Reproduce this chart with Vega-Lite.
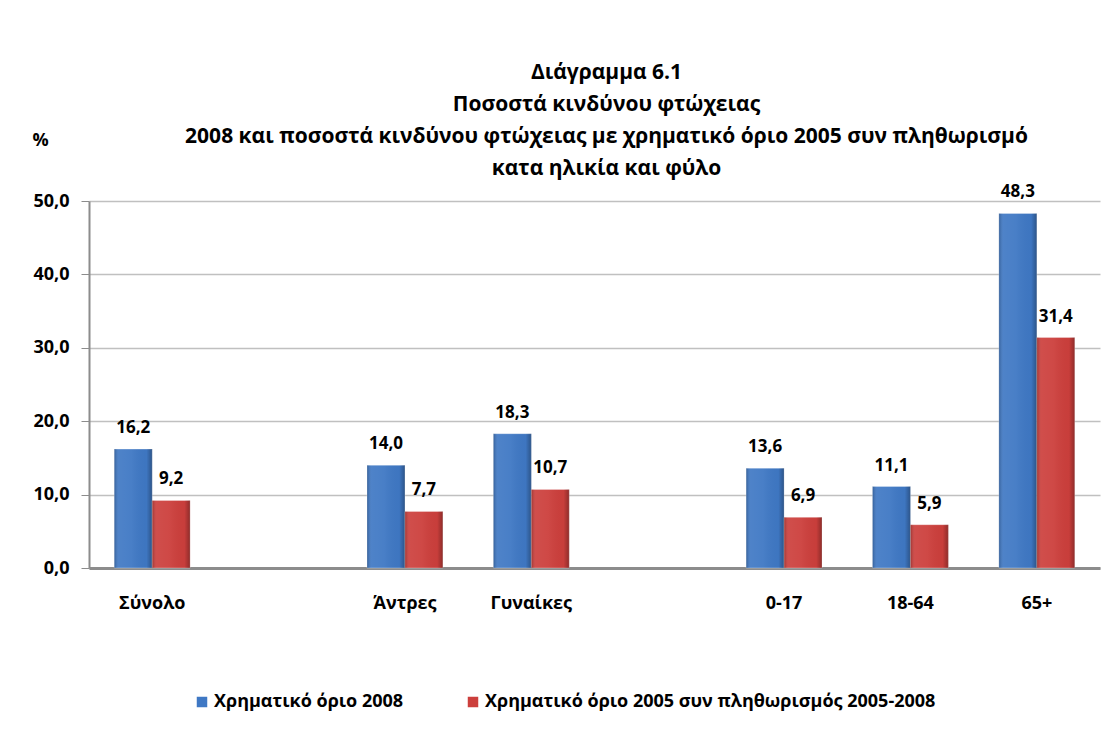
{
  "$schema": "https://vega.github.io/schema/vega-lite/v6.json",
  "autosize": {"type": "none"},
  "width": 1011,
  "height": 367,
  "padding": {"left": 89, "top": 201, "right": 19, "bottom": 170},
  "background": "white",
  "config": {
    "locale": {"number": {"decimal": ",", "thousands": ".", "grouping": [3], "currency": ["", " €"]}},
    "font": "Open Sans",
    "view": {"stroke": null}
  },
  "title": {
    "text": ["Διάγραμμα 6.1", "Ποσοστά κινδύνου  φτώχειας", "2008 και ποσοστά κινδύνου  φτώχειας με χρηματικό όριο 2005 συν πληθωρισμό", "κατα ηλικία και φύλο"],
    "fontSize": 21,
    "fontWeight": "bold",
    "color": "black",
    "lineHeight": 32,
    "anchor": "middle",
    "offset": 26,
    "dx": 12,
    "dy": 74
  },
  "data": {
    "values": [
      {"cat": "Σύνολο", "series": "Χρηματικό όριο 2008", "v": 16.2},
      {"cat": "Σύνολο", "series": "Χρηματικό όριο 2005 συν πληθωρισμός 2005-2008", "v": 9.2},
      {"cat": "Άντρες", "series": "Χρηματικό όριο 2008", "v": 14.0},
      {"cat": "Άντρες", "series": "Χρηματικό όριο 2005 συν πληθωρισμός 2005-2008", "v": 7.7},
      {"cat": "Γυναίκες", "series": "Χρηματικό όριο 2008", "v": 18.3},
      {"cat": "Γυναίκες", "series": "Χρηματικό όριο 2005 συν πληθωρισμός 2005-2008", "v": 10.7},
      {"cat": "0-17", "series": "Χρηματικό όριο 2008", "v": 13.6},
      {"cat": "0-17", "series": "Χρηματικό όριο 2005 συν πληθωρισμός 2005-2008", "v": 6.9},
      {"cat": "18-64", "series": "Χρηματικό όριο 2008", "v": 11.1},
      {"cat": "18-64", "series": "Χρηματικό όριο 2005 συν πληθωρισμός 2005-2008", "v": 5.9},
      {"cat": "65+", "series": "Χρηματικό όριο 2008", "v": 48.3},
      {"cat": "65+", "series": "Χρηματικό όριο 2005 συν πληθωρισμός 2005-2008", "v": 31.4}
    ]
  },
  "encoding": {
    "x": {
      "field": "cat",
      "type": "nominal",
      "scale": {"domain": ["Σύνολο", "_1", "Άντρες", "Γυναίκες", "_2", "0-17", "18-64", "65+"], "paddingInner": 0.4, "paddingOuter": 0.2},
      "axis": {
        "title": null,
        "labelAngle": 0,
        "labelExpr": "indexof(datum.value, '_') == 0 ? '' : datum.value",
        "labelFontSize": 18,
        "labelFontWeight": "bold",
        "labelColor": "black",
        "labelPadding": 26,
        "ticks": false,
        "domainColor": "#8c8c8c",
        "domainWidth": 3
      }
    },
    "xOffset": {
      "field": "series",
      "type": "nominal",
      "sort": ["Χρηματικό όριο 2008", "Χρηματικό όριο 2005 συν πληθωρισμός 2005-2008"],
      "scale": {"paddingInner": 0, "paddingOuter": 0}
    },
    "y": {
      "field": "v",
      "type": "quantitative",
      "scale": {"domain": [0, 50], "nice": false},
      "axis": {
        "values": [0, 10, 20, 30, 40, 50],
        "format": ".1f",
        "labelFontSize": 18,
        "labelFontWeight": "bold",
        "labelColor": "black",
        "labelPadding": 12,
        "tickSize": 8,
        "tickColor": "#8c8c8c",
        "domainColor": "#8c8c8c",
        "domainWidth": 2,
        "gridColor": "#c0c0c0",
        "gridWidth": 1.5,
        "title": "%",
        "titleAngle": 0,
        "titleX": -49,
        "titleY": -61,
        "titleAlign": "center",
        "titleBaseline": "middle",
        "titleFontSize": 18,
        "titleFontWeight": "bold",
        "titleColor": "black"
      }
    }
  },
  "layer": [
    {
      "mark": {"type": "bar", "stroke": "#ffffff", "strokeOpacity": 0.3, "strokeWidth": 1},
      "encoding": {
        "color": {
          "field": "series",
          "type": "nominal",
          "sort": ["Χρηματικό όριο 2008", "Χρηματικό όριο 2005 συν πληθωρισμός 2005-2008"],
          "scale": {"range": ["#3F78C4", "#CC3F3C"]},
          "legend": {
            "title": null,
            "orient": "none",
            "legendX": 104,
            "legendY": 492,
            "direction": "horizontal",
            "symbolType": "square",
            "symbolSize": 110,
            "symbolStrokeWidth": 0,
            "labelFontSize": 18,
            "labelFontWeight": "bold",
            "labelColor": "black",
            "labelLimit": 0,
            "labelOffset": 3,
            "columnPadding": 60
          }
        }
      }
    },
    {
      "mark": {
        "type": "bar",
        "fill": {
          "gradient": "linear",
          "x1": 0, "y1": 0, "x2": 1, "y2": 0,
          "stops": [
            {"offset": 0, "color": "rgba(0,0,0,0.22)"},
            {"offset": 0.12, "color": "rgba(255,255,255,0.08)"},
            {"offset": 0.45, "color": "rgba(255,255,255,0.05)"},
            {"offset": 0.85, "color": "rgba(0,0,0,0.02)"},
            {"offset": 1, "color": "rgba(0,0,0,0.3)"}
          ]
        }
      },
      "encoding": {}
    },
    {
      "mark": {"type": "text", "baseline": "alphabetic", "dy": -16, "fontSize": 17, "fontWeight": "bold", "color": "black"},
      "encoding": {
        "text": {"field": "v", "type": "quantitative", "format": ".1f"}
      }
    }
  ]
}
